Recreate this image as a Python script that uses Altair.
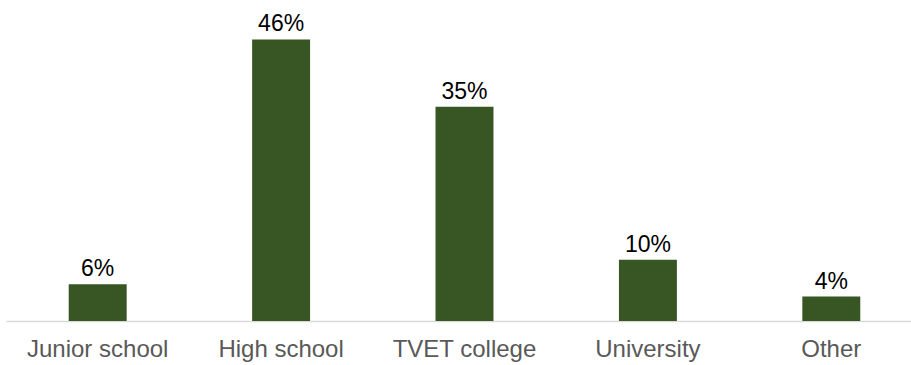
import altair as alt
import pandas as pd

categories = ["Junior school", "High school", "TVET college", "University", "Other"]
values = [6, 46, 35, 10, 4]
labels = ["6%", "46%", "35%", "10%", "4%"]

df = pd.DataFrame({"cat": categories, "val": values, "lab": labels})

x = alt.X("cat:N", sort=categories, title=None,
          scale=alt.Scale(range=[0, 917], paddingInner=0.684, paddingOuter=0.342),
          axis=alt.Axis(labelAngle=0, ticks=False, labelPadding=16, labelFontSize=24,
                        labelFont="Liberation Sans", labelColor="#595959",
                        domainColor="#d9d9d9", domainWidth=1.5, grid=False))
y = alt.Y("val:Q", title=None, scale=alt.Scale(domain=[0, 52.45], nice=False, zero=True),
          axis=None)

bars = alt.Chart(df).mark_bar(color="#375623").encode(x=x, y=y)
text = alt.Chart(df).mark_text(baseline="alphabetic", dy=-8, fontSize=23,
                               font="Liberation Sans", color="#000000").encode(
    x=alt.X("cat:N", sort=categories), y="val:Q", text="lab:N")

chart = (bars + text).properties(
    width=905, height=321,
    autosize=alt.AutoSizeParams(type="none"),
    padding={"left": 6, "top": 0, "right": 0, "bottom": 44},
).configure_view(stroke=None)

chart.save("out.html", embed_options={"renderer": "svg", "actions": False})
